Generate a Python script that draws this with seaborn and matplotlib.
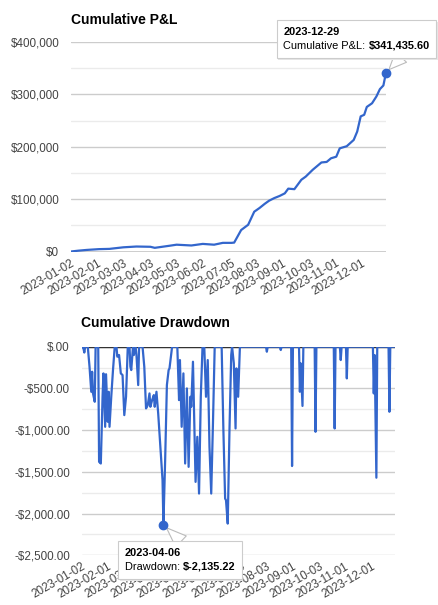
import numpy as np
import pandas as pd
import matplotlib
matplotlib.use("Agg")
import matplotlib.pyplot as plt
from matplotlib.patches import FancyBboxPatch
from matplotlib.text import Annotation
import seaborn as sns

# cumulative P&L
pnl_dates = ["2023-01-02", "2023-01-10", "2023-01-20", "2023-02-03", "2023-02-15",
             "2023-03-03", "2023-03-18", "2023-04-03", "2023-04-08", "2023-04-25",
             "2023-05-03", "2023-05-20", "2023-06-02", "2023-06-15", "2023-06-25",
             "2023-07-05", "2023-07-08", "2023-07-16", "2023-07-24", "2023-07-31",
             "2023-08-06", "2023-08-12", "2023-08-17", "2023-08-23", "2023-08-29",
             "2023-09-04", "2023-09-08", "2023-09-15", "2023-09-23", "2023-09-28",
             "2023-10-06", "2023-10-16", "2023-10-22", "2023-10-27", "2023-11-02",
             "2023-11-06", "2023-11-14", "2023-11-22", "2023-11-26", "2023-11-30",
             "2023-12-04", "2023-12-07", "2023-12-13", "2023-12-18", "2023-12-22",
             "2023-12-26", "2023-12-29"]
pnl_values = [0, 1500, 3000, 4500, 5000,
              8000, 9500, 9000, 7000, 11000,
              13000, 11500, 14500, 13000, 16500,
              16500, 17000, 41000, 51000, 76000,
              83000, 91000, 97000, 102000, 106000,
              111000, 120000, 119000, 137000, 143000,
              156000, 170000, 171000, 178000, 181000,
              197000, 201000, 213000, 229000, 258000,
              261000, 276000, 283000, 296000, 310000,
              317000, 341435.60]

# cumulative drawdown
dd_dates = ["2023-01-02", "2023-01-04", "2023-01-05", "2023-01-06", "2023-01-09",
            "2023-01-11", "2023-01-13", "2023-01-14", "2023-01-15", "2023-01-17",
            "2023-01-18", "2023-01-21", "2023-01-22", "2023-01-24", "2023-01-26",
            "2023-01-27", "2023-01-29", "2023-01-30", "2023-02-01", "2023-02-02",
            "2023-02-03", "2023-02-05", "2023-02-07", "2023-02-09", "2023-02-11",
            "2023-02-12", "2023-02-14", "2023-02-16", "2023-02-18", "2023-02-20",
            "2023-02-22", "2023-02-24", "2023-02-26", "2023-02-27", "2023-02-28",
            "2023-03-02", "2023-03-03", "2023-03-05", "2023-03-06", "2023-03-08",
            "2023-03-09", "2023-03-13", "2023-03-15", "2023-03-17", "2023-03-19",
            "2023-03-21", "2023-03-22", "2023-03-24", "2023-03-26", "2023-03-27",
            "2023-03-29", "2023-03-31", "2023-04-03", "2023-04-05", "2023-04-06",
            "2023-04-08", "2023-04-10", "2023-04-12", "2023-04-13", "2023-04-16",
            "2023-04-22", "2023-04-24", "2023-04-25", "2023-04-27", "2023-04-29",
            "2023-05-01", "2023-05-03", "2023-05-05", "2023-05-07", "2023-05-08",
            "2023-05-10", "2023-05-13", "2023-05-15", "2023-05-17", "2023-05-19",
            "2023-05-21", "2023-05-23", "2023-05-25", "2023-05-27", "2023-05-29",
            "2023-05-31", "2023-06-02", "2023-06-04", "2023-06-12", "2023-06-14",
            "2023-06-16", "2023-06-17", "2023-06-19", "2023-06-21", "2023-06-23",
            "2023-06-24", "2023-06-26", "2023-06-28", "2023-06-29", "2023-07-01",
            "2023-07-03", "2023-08-02", "2023-08-03", "2023-08-04", "2023-08-18",
            "2023-08-19", "2023-08-20", "2023-08-31", "2023-09-01", "2023-09-02",
            "2023-09-09", "2023-09-10", "2023-09-11", "2023-09-13", "2023-09-14",
            "2023-09-27", "2023-09-28", "2023-09-29", "2023-10-19", "2023-10-20",
            "2023-10-21", "2023-10-26", "2023-10-27", "2023-10-28", "2023-11-02",
            "2023-11-03", "2023-11-04", "2023-12-03", "2023-12-04", "2023-12-05",
            "2023-12-07", "2023-12-08", "2023-12-21", "2023-12-22", "2023-12-23",
            "2023-12-29"]
dd_values = [0, -20, -70, 0, 0,
             -240, -540, -300, -560, -660,
             0, 0, -1380, -1400, -600,
             -320, -960, -330, -900, -540,
             -960, -600, -280, 0, 0,
             -120, -100, -320, -340, -820,
             -600, 0, 0, -240, -280,
             0, -100, 0, -100, -460,
             0, 0, -240, -740, -700,
             -560, -720, -640, -580, -720,
             -540, -800, -1280, -1600, -2135.22,
             -1360, -460, -280, -260, 0,
             0, -640, -160, -960, -320,
             -1400, -500, -1440, -600, -720,
             -180, -1620, -1080, -1760, -600,
             0, 0, -600, -160, -1200,
             -1760, -920, 0, 0, -1000,
             -1820, -1840, -2120, -1000, -100,
             0, -200, -980, -260, -600,
             0, 0, -60, 0, 0,
             -40, 0, 0, -1430, 0,
             0, -540, -200, -710, 0,
             0, -1020, 0, 0, -980,
             0, 0, -160, 0, 0,
             -380, 0, 0, -560, -100,
             -1570, 0, 0, -780, 0,
             0]

tick_dates = ["2023-01-02", "2023-02-01", "2023-03-03", "2023-04-03", "2023-05-03",
              "2023-06-02", "2023-07-05", "2023-08-03", "2023-09-01", "2023-10-03",
              "2023-11-01", "2023-12-01"]
pnl_ticks = [0, 100000, 200000, 300000, 400000]
pnl_tick_labels = ["$0", "$100,000", "$200,000", "$300,000", "$400,000"]
dd_ticks = [0, -500, -1000, -1500, -2000, -2500]
dd_tick_labels = ["$.00", "-$500.00", "-$1,000.00", "-$1,500.00", "-$2,000.00", "-$2,500.00"]

pnl = pd.DataFrame({"date": pd.to_datetime(pnl_dates), "value": pnl_values})
dd = pd.DataFrame({"date": pd.to_datetime(dd_dates), "value": dd_values})

sns.set_theme(style="white")
plt.rcParams["font.family"] = ["Liberation Sans", "DejaVu Sans"]

BLUE = "#3366cc"
FS = 8.4
W, H = 439, 605
fig = plt.figure(figsize=(W / 100, H / 100), dpi=100)


def fx(px):
    return px / W


def fy(py):
    return 1 - py / H


ax1 = fig.add_axes([fx(71), fy(251.5), (386 - 71) / W, (251.5 - 42) / H])
ax2 = fig.add_axes([fx(81.7), fy(555.3), (395.5 - 81.7) / W, (555.3 - 346.7) / H])


def style(ax, ticks, labels, lo, hi, minor_step, zero):
    ax.set_xlim(pd.Timestamp("2023-01-02"), pd.Timestamp("2023-12-29"))
    ax.set_ylim(lo, hi)
    ax.set_yticks(ticks)
    ax.set_yticklabels(labels)
    ax.set_yticks(np.arange(lo, hi + 1, minor_step), minor=True)
    ax.set_xticks(pd.to_datetime(tick_dates))
    ax.set_xticklabels(tick_dates, rotation=30, ha="right", rotation_mode="anchor")
    ax.grid(axis="y", which="major", color="#cccccc", lw=1)
    ax.grid(axis="y", which="minor", color="#ebebeb", lw=1)
    ax.grid(axis="x", visible=False)
    ax.axhline(zero, color="#333333", lw=1, zorder=1.5)
    for s in ax.spines.values():
        s.set_visible(False)
    ax.tick_params(axis="y", which="both", length=0, pad=8.5, labelsize=FS, labelcolor="#444444")
    ax.tick_params(axis="x", length=0, pad=4, labelsize=FS, labelcolor="#444444")
    ax.set_xlabel("")
    ax.set_ylabel("")
    ax.set_facecolor("none")


sns.lineplot(data=pnl, x="date", y="value", ax=ax1, color=BLUE, lw=1.6)
style(ax1, pnl_ticks, pnl_tick_labels, 0, 400000, 50000, 0)
sns.lineplot(data=dd, x="date", y="value", ax=ax2, color=BLUE, lw=1.6)
style(ax2, dd_ticks, dd_tick_labels, -2500, 0, 250, 0)

fig.text(fx(71), fy(20), "Cumulative P&L", fontsize=10, weight="bold", color="#000000", va="center")
fig.text(fx(81), fy(323), "Cumulative Drawdown", fontsize=10, weight="bold", color="#000000", va="center")

# highlighted points and tooltips
last = pnl.iloc[-1]
low = dd.loc[dd["value"].idxmin()]
ax1.plot(last["date"], last["value"], "o", color=BLUE, ms=6, clip_on=False, zorder=5)
ax2.plot(low["date"], low["value"], "o", color=BLUE, ms=6, clip_on=False, zorder=5)


def tooltip(ax, point, box, tail, line1, label, value):
    x0, y0, x1, y1 = box
    ax.annotate("", xy=(point["date"], point["value"]), xycoords="data",
                xytext=(fx(tail[0]), fy(tail[1])), textcoords="figure fraction",
                annotation_clip=False,
                arrowprops=dict(arrowstyle="wedge,tail_width=1.1,shrink_factor=0.5",
                                fc="white", ec="#bbbbbb", lw=0.8, mutation_scale=10,
                                shrinkA=0, shrinkB=3))
    shadow = FancyBboxPatch((fx(x0 + 1.5), fy(y1 + 1.5)), (x1 - x0) / W, (y1 - y0) / H,
                            boxstyle="square,pad=0", transform=fig.transFigure,
                            fc="#e6e6e6", ec="none", zorder=20)
    rect = FancyBboxPatch((fx(x0), fy(y1)), (x1 - x0) / W, (y1 - y0) / H,
                          boxstyle="square,pad=0", transform=fig.transFigure,
                          fc="white", ec="#cccccc", lw=0.8, zorder=21)
    fig.add_artist(shadow)
    fig.add_artist(rect)
    fig.text(fx(x0 + 6.5), fy(y0 + 12), line1, fontsize=7.9, weight="bold",
             color="#000000", va="center", zorder=22)
    t = fig.text(fx(x0 + 6.5), fy(y0 + 26), label, fontsize=7.9,
                 color="#000000", va="center", zorder=22)
    fig.add_artist(Annotation(value, xy=(1, 0), xycoords=t, va="bottom", ha="left",
                              fontsize=7.9, weight="bold", color="#000000", zorder=22))


tooltip(ax1, last, (277, 20, 436.5, 58), (401, 57), last["date"].strftime("%Y-%m-%d"),
        "Cumulative P&L: ", f"${last['value']:,.2f}")
tooltip(ax2, low, (118.3, 540.7, 241.7, 579), (181, 541.5), low["date"].strftime("%Y-%m-%d"),
        "Drawdown: ", f"$-{abs(low['value']):,.2f}")

fig.savefig("out.png", dpi=100, facecolor="white")
